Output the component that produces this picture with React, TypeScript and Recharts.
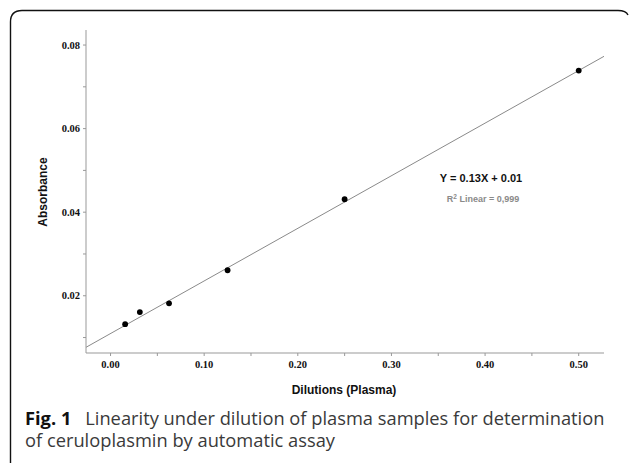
import React from 'react';
import { ScatterChart, Scatter, XAxis, YAxis, ReferenceLine } from 'recharts';

const dilutions = [0.0156, 0.0313, 0.0625, 0.125, 0.25, 0.5];
const absorbance = [0.0132, 0.0161, 0.0182, 0.0261, 0.0431, 0.0739];
const xTicks = [0, 0.05, 0.1, 0.15, 0.2, 0.25, 0.3, 0.35, 0.4, 0.45, 0.5];
const xMajor = ['0.00', '', '0.10', '', '0.20', '', '0.30', '', '0.40', '', '0.50'];
const yTicks = [0.01, 0.02, 0.03, 0.04, 0.05, 0.06, 0.07, 0.08];
const yMajor = ['', '0.02', '', '0.04', '', '0.06', '', '0.08'];
const xDomain = [-0.0262, 0.527];
const yDomain = [0.0063, 0.0836];
const fitLine = [
  { x: -0.0262, y: 0.00766 },
  { x: 0.527, y: 0.0773 },
];

const points = dilutions.map((d, i) => ({ x: d, y: absorbance[i] }));

const tickFont = { fontFamily: '"Liberation Serif", "Times New Roman", serif', fontWeight: 700, fontSize: 10.5, fill: '#111' };

const XTick = (props: any) => {
  const v = props.payload?.value;
  const idx = xTicks.findIndex((t) => Math.abs(t - v) < 1e-9);
  const label = idx >= 0 ? xMajor[idx] : '';
  if (!label) return null;
  return (
    <text x={props.x} y={props.y} dy={9.5} textAnchor="middle" style={tickFont}>
      {label}
    </text>
  );
};

const YTick = (props: any) => {
  const v = props.payload?.value;
  const idx = yTicks.findIndex((t) => Math.abs(t - v) < 1e-9);
  const label = idx >= 0 ? yMajor[idx] : '';
  if (!label) return null;
  return (
    <text x={props.x} y={props.y} dy={3.6} textAnchor="end" style={tickFont}>
      {label}
    </text>
  );
};

const Dot = (props: any) => <circle cx={props.cx} cy={props.cy} r={2.9} fill="#000" />;

export default function App() {
  return (
    <div style={{ position: 'absolute', left: 0, top: 0, width: 629, height: 463, background: '#fff' }}>
      <ScatterChart width={629} height={463} margin={{ top: 30, left: 46, right: 25, bottom: 80 }}>
        <XAxis
          type="number"
          dataKey="x"
          domain={xDomain}
          ticks={xTicks}
          allowDataOverflow
          height={30}
          tickSize={3}
          tickMargin={2}
          stroke="#999"
          tickLine={{ stroke: '#999' }}
          tick={<XTick />}
          interval={0}
        />
        <YAxis
          type="number"
          dataKey="y"
          domain={yDomain}
          ticks={yTicks}
          allowDataOverflow
          width={40}
          tickSize={3}
          tickMargin={3}
          stroke="#999"
          tickLine={{ stroke: '#999' }}
          tick={<YTick />}
          interval={0}
        />
        <ReferenceLine segment={fitLine} stroke="#8a8a8a" strokeWidth={1} ifOverflow="visible" />
        <Scatter data={points} shape={<Dot />} isAnimationActive={false} />
      </ScatterChart>
      <svg
        width={629}
        height={463}
        style={{ position: 'absolute', left: 0, top: 0, pointerEvents: 'none' }}
      >
        <path d="M10.5,463 L10.5,22 Q10.5,10.5 22,10.5 L618,10.5 Q626,10.5 628,15" fill="none" stroke="#111" strokeWidth={1.4} />
        <text
          x={43}
          y={192}
          transform="rotate(-90 43 192)"
          textAnchor="middle"
          dominantBaseline="central"
          style={{ fontFamily: '"Liberation Sans", Arial, sans-serif', fontWeight: 700, fontSize: 12, fill: '#111' }}
        >
          Absorbance
        </text>
        <text
          x={344}
          y={394}
          textAnchor="middle"
          style={{ fontFamily: '"Liberation Sans", Arial, sans-serif', fontWeight: 700, fontSize: 12, fill: '#111' }}
        >
          Dilutions (Plasma)
        </text>
        <text
          x={481}
          y={182}
          textAnchor="middle"
          style={{ fontFamily: '"Liberation Sans", Arial, sans-serif', fontWeight: 700, fontSize: 11, fill: '#111' }}
        >
          Y = 0.13X + 0.01
        </text>
        <text
          x={483}
          y={202}
          textAnchor="middle"
          style={{ fontFamily: '"Liberation Sans", Arial, sans-serif', fontWeight: 700, fontSize: 9, fill: '#8a8a8a' }}
        >
          R<tspan dy={-3.5} fontSize={6.5}>2</tspan><tspan dy={3.5}> Linear = 0,999</tspan>
        </text>
        <text x={25} y={424.5} style={{ fontFamily: '"Open Sans", "Noto Sans", sans-serif', fontSize: 18.3, fill: '#3a3a3a' }}>
          <tspan fontWeight={700} fill="#111">Fig. 1</tspan>
          <tspan>{'\u2002 Linearity under dilution of plasma samples for determination'}</tspan>
        </text>
        <text x={25} y={447} style={{ fontFamily: '"Open Sans", "Noto Sans", sans-serif', fontSize: 18.3, fill: '#3a3a3a' }}>
          of ceruloplasmin by automatic assay
        </text>
      </svg>
    </div>
  );
}
